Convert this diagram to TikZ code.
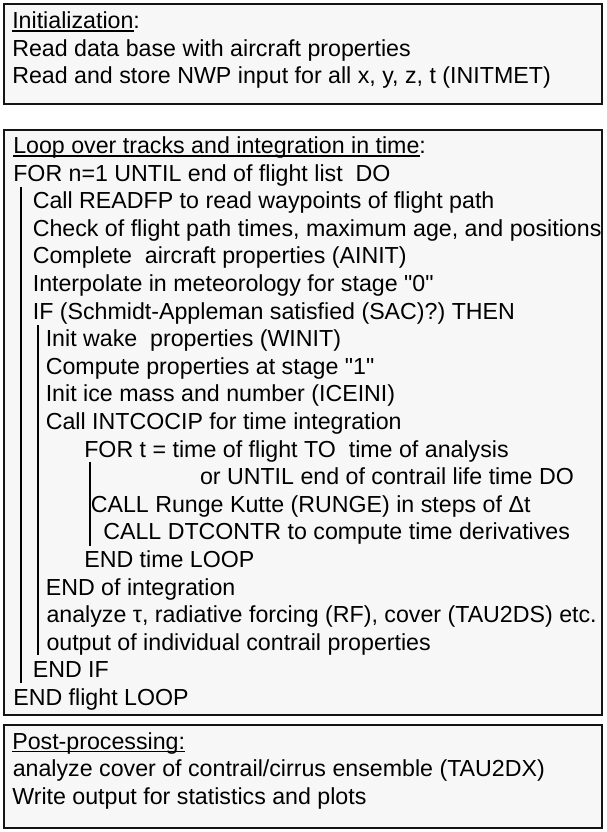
\documentclass[tikz,border=0pt]{standalone}
\usepackage{fontspec}
\setmainfont{Liberation Sans}[Ligatures=TeXOff]
\definecolor{boxfill}{HTML}{F7F7F7}
\newcommand\hul[1]{\setbox0=\hbox{#1}\rlap{\rule[-3.3pt]{\wd0}{1.6pt}}\box0}
\tikzset{
  panel/.style={draw=black!92, line width=2pt, fill=boxfill},
  ln/.style={anchor=base west, inner sep=0pt, outer sep=0pt, font=\fontsize{23.2}{27.6}\selectfont, text=black},
  vbar/.style={draw=black, line width=2pt},
}
\begin{document}
\begin{tikzpicture}[x=1pt,y=-1pt]
\useasboundingbox (0,0) rectangle (606,832);
% panels
\draw[panel] (4,4) rectangle (602,104);
\draw[panel] (4,130) rectangle (602,715);
\draw[panel] (4,725) rectangle (602,828);
% box 1
\node[ln] (i0) at (12.3,28.5) {\hul{Initialization}:};
\node[ln] (i1) at (12.3,56.1) {Read data base with aircraft properties};
\node[ln] (i2) at (12.3,83.7) {Read and store NWP input for all x, y, z, t (INITMET)};
% box 2
\node[ln] (l0) at (13.3,153.5) {\hul{Loop over tracks and integration in time}:};
\node[ln] (l1) at (13.3,181.1) {FOR n=1 UNTIL end of flight list\ \ DO};
\node[ln] (l2) at (32.8,208.7) {Call READFP to read waypoints of flight path};
\node[ln] (l3) at (32.8,236.3) {Check of flight path times, maximum age, and positions};
\node[ln] (l4) at (32.8,263.9) {Complete\ \ aircraft properties (AINIT)};
\node[ln] (l5) at (32.8,291.5) {Interpolate in meteorology for stage "0"};
\node[ln] (l6) at (32.8,319.1) {IF (Schmidt-Appleman satisfied (SAC)?) THEN};
\node[ln] (l7) at (45.8,346.7) {Init wake\ \ properties (WINIT)};
\node[ln] (l8) at (45.8,374.3) {Compute properties at stage "1"};
\node[ln] (l9) at (45.8,401.9) {Init ice mass and number (ICEINI)};
\node[ln] (l10) at (45.8,429.5) {Call INTCOCIP for time integration};
\node[ln] (l11) at (84.3,457.1) {FOR t = time of flight TO\ \ time of analysis};
\node[ln] (l12) at (200,484.7) {or UNTIL end of contrail life time DO};
\node[ln] (l13) at (90.8,512.3) {CALL Runge Kutte (RUNGE) in steps of Δt};
\node[ln] (l14) at (103.3,539.9) {CALL DTCONTR to compute time derivatives};
\node[ln] (l15) at (84.3,567.5) {END time LOOP};
\node[ln] (l16) at (45.8,595.1) {END of integration};
\node[ln] (l17) at (46.5,622.7) {analyze τ, radiative forcing (RF), cover (TAU2DS) etc.};
\node[ln] (l18) at (46.5,650.3) {output of individual contrail properties};
\node[ln] (l19) at (32.8,677.9) {END IF};
\node[ln] (l20) at (13.3,705.5) {END flight LOOP};
% nesting bars
\draw[vbar] (21,187) -- (21,683);
\draw[vbar] (38,325) -- (38,655);
\draw[vbar] (90,462) -- (90,546);
% box 3
\node[ln] (p0) at (12.3,749) {\hul{Post-processing:}};
\node[ln] (p1) at (12.8,776.6) {analyze cover of contrail/cirrus ensemble (TAU2DX)};
\node[ln] (p2) at (12.3,804.2) {Write output for statistics and plots};
\end{tikzpicture}
\end{document}
